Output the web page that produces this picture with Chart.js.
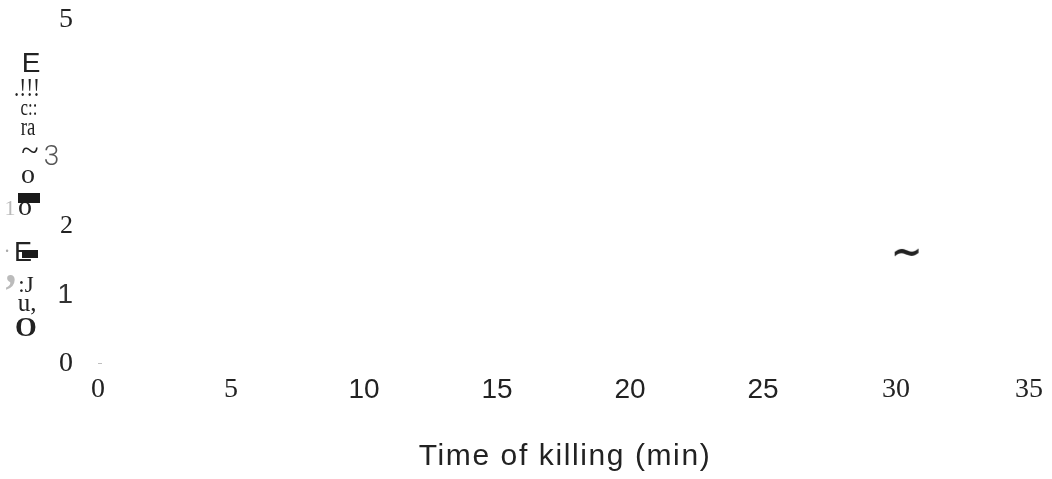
<!DOCTYPE html>
<html>
<head>
<meta charset="utf-8">
<script src="https://cdn.jsdelivr.net/npm/chart.js@4"></script>
<style>
  html, body { margin: 0; padding: 0; background: #fff; }
  #wrap { width: 1052px; height: 479px; position: relative; }
</style>
</head>
<body>
<div id="wrap"><canvas id="chart1"></canvas></div>
<script>
// chart values
const xTicks = [0, 5, 10, 15, 20, 25, 30, 35];
const xTickLabels = ['0', '5', '10', '15', '20', '25', '30', '35'];
const yTicks = [0, 1, 2, 3, 5];
const yTickLabels = ['0', '1', '2', '3', '5'];
const markX = [0, 30.4];
const markY = [0, 1.6];
const xTitle = 'Time of killing (min)';
// broken (scanned) y axis title, read top to bottom
const yTitleBits = ['E', '.!!!', 'c::', 'ra', '~', 'o', '1', 'o', '·', 'E', ',', ':J', 'u,', 'O'];

// how each piece of the y title is drawn
const yTitleLayout = [
  { x: 31, y: 64, font: '28px "Liberation Sans"', color: '#222', sx: 1 },
  { x: 27, y: 89, font: '26px "Liberation Serif"', color: '#222', sx: 0.8 },
  { x: 29, y: 109, font: '24px "Liberation Serif"', color: '#222', sx: 0.7 },
  { x: 28, y: 128, font: '25px "Liberation Serif"', color: '#222', sx: 0.75 },
  { x: 30, y: 153, font: '32px "Liberation Serif"', color: '#222', sx: 1 },
  { x: 28, y: 176, font: '28px "Liberation Serif"', color: '#222', sx: 1 },
  { x: 10, y: 209, font: '22px "Liberation Serif"', color: '#bbb', sx: 1 },
  { x: 25, y: 208, font: '28px "Liberation Serif"', color: '#222', sx: 1 },
  { x: 7, y: 253, font: '20px "Liberation Serif"', color: '#aaa', sx: 1 },
  { x: 23, y: 254, font: '27px "Liberation Sans"', color: '#222', sx: 1 },
  { x: 11, y: 270, font: 'bold 48px "Liberation Serif"', color: '#bbb', sx: 0.9 },
  { x: 26, y: 286, font: '23px "Liberation Serif"', color: '#222', sx: 1 },
  { x: 27, y: 304, font: '25px "Liberation Serif"', color: '#222', sx: 1 },
  { x: 26, y: 329, font: 'bold 28px "Liberation Serif"', color: '#222', sx: 1 }
];
const yTitleBlocks = [[18, 193, 22, 10], [22, 250, 16, 8]];

const serif = { family: '"Liberation Serif"', size: 28 };
const sans = { family: '"Liberation Sans"', size: 28 };
const xTickFonts = [serif, serif, sans, sans, sans, sans, serif, serif];
const yTickFonts = [serif, sans, { family: '"Liberation Serif"', size: 26 }, { family: 'Roboto', size: 28, weight: '300' }, serif];

// tilde shaped point
const tilde = document.createElement('canvas');
tilde.width = 34; tilde.height = 20;
let tc = tilde.getContext('2d');
tc.fillStyle = '#222';
tc.font = 'bold 38px "DejaVu Sans"';
tc.textAlign = 'center';
tc.textBaseline = 'middle';
tc.fillText('~', 17, 10);

const points = markX.map((x, i) => ({ x: x, y: markY[i] }));

const pageText = {
  id: 'pageText',
  afterDraw(chart) {
    const c = chart.ctx;
    c.save();
    // x title
    c.fillStyle = '#222';
    c.font = '30px "Liberation Sans"';
    c.letterSpacing = '1.6px';
    c.textAlign = 'center';
    c.textBaseline = 'middle';
    c.fillText(xTitle, 565, 457);
    c.letterSpacing = '0px';
    // y title bits
    yTitleBits.forEach((t, i) => {
      const l = yTitleLayout[i];
      c.save();
      c.translate(l.x, l.y);
      c.scale(l.sx, 1);
      c.font = l.font;
      c.fillStyle = l.color;
      c.fillText(t, 0, 0);
      c.restore();
    });
    c.fillStyle = '#1a1a1a';
    yTitleBlocks.forEach(b => c.fillRect(b[0], b[1], b[2], b[3]));
    c.restore();
  }
};

function tickVal(c) {
  return c && c.tick ? c.tick.value : null;
}

const ctx = document.getElementById('chart1').getContext('2d');
const chart = new Chart(ctx, {
  type: 'scatter',
  data: {
    datasets: [{
      data: points,
      pointStyle: ['line', tilde],
      pointRadius: [4, 10],
      borderColor: ['#aaa', '#222'],
      borderWidth: 1.5,
      backgroundColor: '#222'
    }]
  },
  options: {
    responsive: true,
    maintainAspectRatio: false,
    animation: false,
    layout: { padding: { top: 20, right: 23, left: 0, bottom: 0 } },
    plugins: { legend: { display: false }, tooltip: { enabled: false } },
    scales: {
      x: {
        type: 'linear',
        min: 0, max: 35,
        grid: { display: false, drawTicks: false },
        border: { display: false },
        afterFit: s => { s.height = 115; },
        afterBuildTicks: s => { s.ticks = xTicks.map(v => ({ value: v })); },
        ticks: {
          padding: 9,
          maxRotation: 0,
          autoSkip: false,
          color: '#222',
          font: c => xTickFonts[xTicks.indexOf(tickVal(c))] || sans,
          callback: v => xTickLabels[xTicks.indexOf(v)]
        }
      },
      y: {
        min: 0, max: 5,
        grid: { display: false, drawTicks: false },
        border: { display: false },
        afterFit: s => { s.width = 98; s.paddingTop = 0; s.paddingBottom = 0; },
        afterBuildTicks: s => { s.ticks = yTicks.map(v => ({ value: v })); },
        ticks: {
          padding: 25,
          autoSkip: false,
          color: c => tickVal(c) === 3 ? '#555' : (tickVal(c) === 1 ? '#333' : '#222'),
          font: c => yTickFonts[yTicks.indexOf(tickVal(c))] || serif,
          callback: v => {
            const lab = yTickLabels[yTicks.indexOf(v)];
            return v === 3 ? lab + '  ' : lab;
          }
        }
      }
    }
  },
  plugins: [pageText]
});
</script>
</body>
</html>
